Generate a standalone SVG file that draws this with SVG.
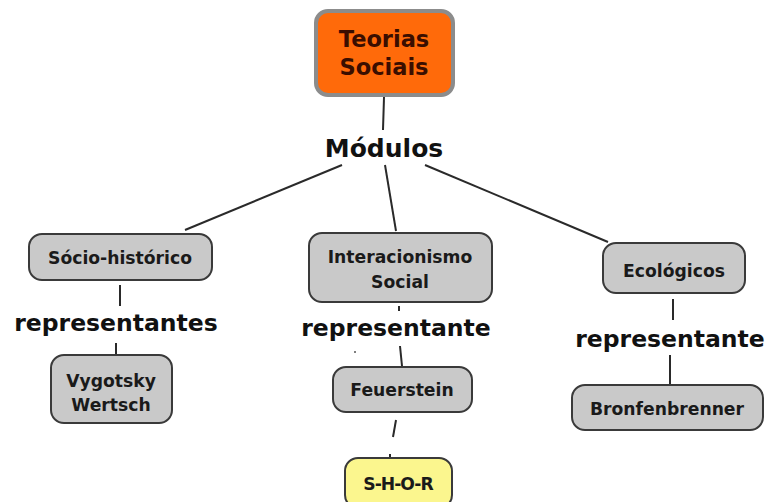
<svg xmlns="http://www.w3.org/2000/svg" width="766" height="502" viewBox="0 0 766 502">
  <style>
    .node { fill: #c9c9c9; stroke: #3a3a3a; stroke-width: 2; }
    .root { fill: #ff6a0a; stroke: #8c8c8c; stroke-width: 4; }
    .leaf { fill: #fbf68e; stroke: #3a3a3a; stroke-width: 2; }
    .t { font-family: "DejaVu Sans", Verdana, sans-serif; font-weight: bold; text-anchor: middle; fill: #1a1a1a; }
    .n { font-size: 17.2px; }
    .rt { font-size: 22.5px; fill: #3a0e00; }
    .lbl { font-size: 23.5px; fill: #111; }
    .edge { stroke: #2a2a2a; stroke-width: 2; fill: none; }
  </style>
  <rect width="766" height="502" fill="#ffffff"/>

  <g id="connectors">
    <line class="edge" x1="384" y1="97" x2="383" y2="130"/>
    <line class="edge" x1="342" y1="165" x2="185" y2="230"/>
    <line class="edge" x1="385" y1="165" x2="396" y2="231"/>
    <line class="edge" x1="425" y1="165" x2="608" y2="242"/>
    <line class="edge" x1="120" y1="285" x2="120" y2="306"/>
    <line class="edge" x1="116" y1="343" x2="116" y2="354"/>
    <line class="edge" x1="399" y1="306" x2="399" y2="311"/>
    <line class="edge" x1="400" y1="346" x2="402" y2="366"/>
    <line class="edge" x1="396" y1="420" x2="393" y2="437"/>
    <line class="edge" x1="390" y1="454" x2="390" y2="458"/>
    <line class="edge" x1="673" y1="299" x2="673" y2="320"/>
    <line class="edge" x1="670" y1="355" x2="670" y2="384"/>
    <circle cx="355" cy="352" r="1" fill="#555"/>
  </g>

  <g id="teorias-sociais">
    <rect class="root" x="316" y="11" width="137" height="84" rx="12"/>
    <text class="t rt" x="384" y="47">Teorias</text>
    <text class="t rt" x="384" y="75">Sociais</text>
  </g>

  <g id="modulos">
    <text class="t lbl" x="384" y="157" style="font-size:25px">Módulos</text>
  </g>

  <g id="socio-historico">
    <rect class="node" x="29" y="234" width="183" height="46" rx="13"/>
    <text class="t n" x="120" y="264">Sócio-histórico</text>
  </g>

  <g id="rep-socio">
    <text class="t lbl" x="116" y="331">representantes</text>
  </g>

  <g id="vygotsky">
    <rect class="node" x="51" y="355" width="121" height="68" rx="13"/>
    <text class="t n" x="111" y="387">Vygotsky</text>
    <text class="t n" x="111" y="411">Wertsch</text>
  </g>

  <g id="interacionismo">
    <rect class="node" x="309" y="233" width="183" height="69" rx="13"/>
    <text class="t n" x="400" y="263">Interacionismo</text>
    <text class="t n" x="400" y="288">Social</text>
  </g>

  <g id="rep-inter">
    <text class="t lbl" x="396" y="336">representante</text>
  </g>

  <g id="feuerstein">
    <rect class="node" x="333" y="367" width="139" height="45" rx="13"/>
    <text class="t n" x="402" y="396">Feuerstein</text>
  </g>

  <g id="shor">
    <rect class="leaf" x="345" y="458" width="107" height="50" rx="13"/>
    <text class="t n" x="398" y="490" style="letter-spacing:-1px">S-H-O-R</text>
  </g>

  <g id="ecologicos">
    <rect class="node" x="603" y="243" width="142" height="50" rx="13"/>
    <text class="t n" x="674" y="277">Ecológicos</text>
  </g>

  <g id="rep-eco">
    <text class="t lbl" x="670" y="347">representante</text>
  </g>

  <g id="bronfenbrenner">
    <rect class="node" x="572" y="385" width="191" height="45" rx="13"/>
    <text class="t n" x="667" y="415">Bronfenbrenner</text>
  </g>
</svg>
